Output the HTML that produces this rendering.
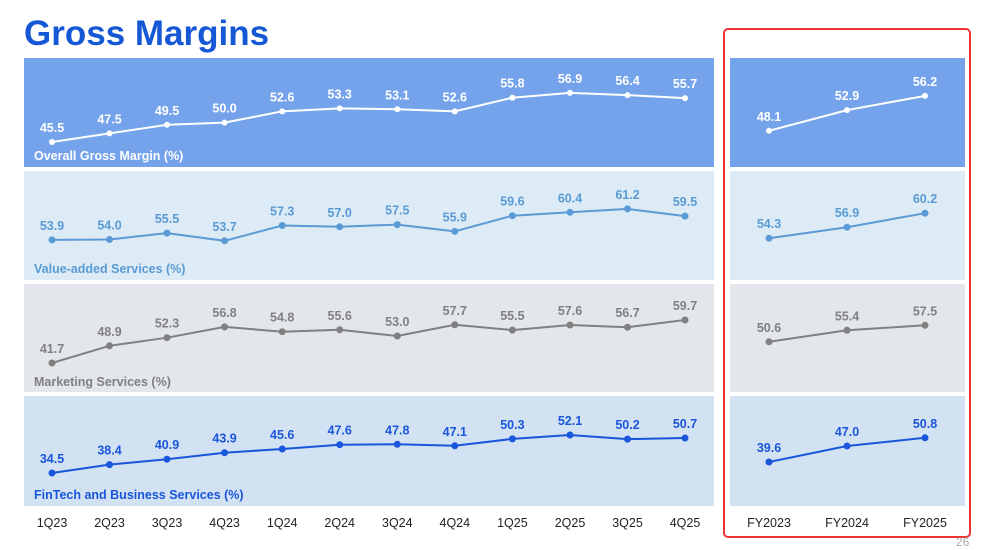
<!DOCTYPE html>
<html><head><meta charset="utf-8"><style>
body{margin:0;background:#fff;}
svg{display:block;font-family:"Liberation Sans",Arial,sans-serif;}
.v{font-size:12.5px;font-weight:bold;text-anchor:middle;}
.c{font-size:12.5px;text-anchor:middle;fill:#222;}
.n{font-size:12.5px;font-weight:bold;}
</style></head><body>
<svg width="1000" height="550" viewBox="0 0 1000 550">
<text x="24" y="45" font-size="35" font-weight="bold" fill="#1558d6">Gross Margins</text>
<rect x="24" y="58" width="690" height="109" fill="#74a3eb"/>
<rect x="24" y="171" width="690" height="109" fill="#dcebf5"/>
<rect x="24" y="284" width="690" height="108" fill="#e3e6ea"/>
<rect x="24" y="396" width="690" height="110" fill="#d2e2f3"/>
<rect x="730" y="58" width="235" height="109" fill="#74a3eb"/>
<rect x="730" y="171" width="235" height="109" fill="#dcebf5"/>
<rect x="730" y="284" width="235" height="108" fill="#e3e6ea"/>
<rect x="730" y="396" width="235" height="110" fill="#d2e2f3"/>
<rect x="724" y="29" width="246" height="508" rx="4" fill="none" stroke="#ee3333" stroke-width="2"/>

<text x="34" y="160" class="n" fill="#fff">Overall Gross Margin (%)</text>
<text x="34" y="273" class="n" fill="#5b9bd5">Value-added Services (%)</text>
<text x="34" y="386" class="n" fill="#808080">Marketing Services (%)</text>
<text x="34" y="499" class="n" fill="#1a56db">FinTech and Business Services (%)</text>

<g fill="#fff" stroke="#fff">
<polyline fill="none" stroke-width="2" points="52,142 109.5,133.4 167,124.8 224.6,122.6 282.2,111.4 339.7,108.4 397.3,109.3 454.8,111.4 512.4,97.7 570,92.9 627.5,95.1 685,98.1"/>
<polyline fill="none" stroke-width="2" points="769,130.8 847,110.1 925,95.9"/>
<g stroke="none">
<circle cx="52" cy="142" r="3"/><circle cx="109.5" cy="133.4" r="3"/><circle cx="167" cy="124.8" r="3"/><circle cx="224.6" cy="122.6" r="3"/><circle cx="282.2" cy="111.4" r="3"/><circle cx="339.7" cy="108.4" r="3"/><circle cx="397.3" cy="109.3" r="3"/><circle cx="454.8" cy="111.4" r="3"/><circle cx="512.4" cy="97.7" r="3"/><circle cx="570" cy="92.9" r="3"/><circle cx="627.5" cy="95.1" r="3"/><circle cx="685" cy="98.1" r="3"/>
<circle cx="769" cy="130.8" r="3"/><circle cx="847" cy="110.1" r="3"/><circle cx="925" cy="95.9" r="3"/>
<text class="v" x="52" y="132">45.5</text><text class="v" x="109.5" y="123.4">47.5</text><text class="v" x="167" y="114.8">49.5</text><text class="v" x="224.6" y="112.6">50.0</text><text class="v" x="282.2" y="101.4">52.6</text><text class="v" x="339.7" y="98.4">53.3</text><text class="v" x="397.3" y="99.3">53.1</text><text class="v" x="454.8" y="101.4">52.6</text><text class="v" x="512.4" y="87.7">55.8</text><text class="v" x="570" y="82.9">56.9</text><text class="v" x="627.5" y="85.1">56.4</text><text class="v" x="685" y="88.1">55.7</text>
<text class="v" x="769" y="120.8">48.1</text><text class="v" x="847" y="100.1">52.9</text><text class="v" x="925" y="85.9">56.2</text>
</g></g>

<g fill="#5b9bd5" stroke="#5b9bd5">
<polyline fill="none" stroke-width="2" points="52,239.9 109.5,239.5 167,233.1 224.6,240.8 282.2,225.5 339.7,226.8 397.3,224.6 454.8,231.4 512.4,215.7 570,212.3 627.5,208.9 685,216.1"/>
<polyline fill="none" stroke-width="2" points="769,238.2 847,227.2 925,213.2"/>
<g stroke="none">
<circle cx="52" cy="239.9" r="3.5"/><circle cx="109.5" cy="239.5" r="3.5"/><circle cx="167" cy="233.1" r="3.5"/><circle cx="224.6" cy="240.8" r="3.5"/><circle cx="282.2" cy="225.5" r="3.5"/><circle cx="339.7" cy="226.8" r="3.5"/><circle cx="397.3" cy="224.6" r="3.5"/><circle cx="454.8" cy="231.4" r="3.5"/><circle cx="512.4" cy="215.7" r="3.5"/><circle cx="570" cy="212.3" r="3.5"/><circle cx="627.5" cy="208.9" r="3.5"/><circle cx="685" cy="216.1" r="3.5"/>
<circle cx="769" cy="238.2" r="3.5"/><circle cx="847" cy="227.2" r="3.5"/><circle cx="925" cy="213.2" r="3.5"/>
<text class="v" x="52" y="229.9">53.9</text><text class="v" x="109.5" y="229.5">54.0</text><text class="v" x="167" y="223.1">55.5</text><text class="v" x="224.6" y="230.8">53.7</text><text class="v" x="282.2" y="215.5">57.3</text><text class="v" x="339.7" y="216.8">57.0</text><text class="v" x="397.3" y="214.6">57.5</text><text class="v" x="454.8" y="221.4">55.9</text><text class="v" x="512.4" y="205.7">59.6</text><text class="v" x="570" y="202.3">60.4</text><text class="v" x="627.5" y="198.9">61.2</text><text class="v" x="685" y="206.1">59.5</text>
<text class="v" x="769" y="228.2">54.3</text><text class="v" x="847" y="217.2">56.9</text><text class="v" x="925" y="203.2">60.2</text>
</g></g>

<g fill="#808080" stroke="#808080">
<polyline fill="none" stroke-width="2" points="52,363 109.5,345.8 167,337.7 224.6,326.9 282.2,331.7 339.7,329.8 397.3,336 454.8,324.8 512.4,330.1 570,325 627.5,327.2 685,320"/>
<polyline fill="none" stroke-width="2" points="769,341.8 847,330.3 925,325.3"/>
<g stroke="none">
<circle cx="52" cy="363" r="3.5"/><circle cx="109.5" cy="345.8" r="3.5"/><circle cx="167" cy="337.7" r="3.5"/><circle cx="224.6" cy="326.9" r="3.5"/><circle cx="282.2" cy="331.7" r="3.5"/><circle cx="339.7" cy="329.8" r="3.5"/><circle cx="397.3" cy="336" r="3.5"/><circle cx="454.8" cy="324.8" r="3.5"/><circle cx="512.4" cy="330.1" r="3.5"/><circle cx="570" cy="325" r="3.5"/><circle cx="627.5" cy="327.2" r="3.5"/><circle cx="685" cy="320" r="3.5"/>
<circle cx="769" cy="341.8" r="3.5"/><circle cx="847" cy="330.3" r="3.5"/><circle cx="925" cy="325.3" r="3.5"/>
<text class="v" x="52" y="353">41.7</text><text class="v" x="109.5" y="335.8">48.9</text><text class="v" x="167" y="327.7">52.3</text><text class="v" x="224.6" y="316.9">56.8</text><text class="v" x="282.2" y="321.7">54.8</text><text class="v" x="339.7" y="319.8">55.6</text><text class="v" x="397.3" y="326">53.0</text><text class="v" x="454.8" y="314.8">57.7</text><text class="v" x="512.4" y="320.1">55.5</text><text class="v" x="570" y="315">57.6</text><text class="v" x="627.5" y="317.2">56.7</text><text class="v" x="685" y="310">59.7</text>
<text class="v" x="769" y="331.8">50.6</text><text class="v" x="847" y="320.3">55.4</text><text class="v" x="925" y="315.3">57.5</text>
</g></g>

<g fill="#1a56db" stroke="#1a56db">
<polyline fill="none" stroke-width="2" points="52,473 109.5,464.6 167,459.2 224.6,452.7 282.2,449 339.7,444.7 397.3,444.3 454.8,445.8 512.4,438.9 570,435 627.5,439.1 685,438"/>
<polyline fill="none" stroke-width="2" points="769,462 847,446 925,437.8"/>
<g stroke="none">
<circle cx="52" cy="473" r="3.5"/><circle cx="109.5" cy="464.6" r="3.5"/><circle cx="167" cy="459.2" r="3.5"/><circle cx="224.6" cy="452.7" r="3.5"/><circle cx="282.2" cy="449" r="3.5"/><circle cx="339.7" cy="444.7" r="3.5"/><circle cx="397.3" cy="444.3" r="3.5"/><circle cx="454.8" cy="445.8" r="3.5"/><circle cx="512.4" cy="438.9" r="3.5"/><circle cx="570" cy="435" r="3.5"/><circle cx="627.5" cy="439.1" r="3.5"/><circle cx="685" cy="438" r="3.5"/>
<circle cx="769" cy="462" r="3.5"/><circle cx="847" cy="446" r="3.5"/><circle cx="925" cy="437.8" r="3.5"/>
<text class="v" x="52" y="463">34.5</text><text class="v" x="109.5" y="454.6">38.4</text><text class="v" x="167" y="449.2">40.9</text><text class="v" x="224.6" y="442.7">43.9</text><text class="v" x="282.2" y="439">45.6</text><text class="v" x="339.7" y="434.7">47.6</text><text class="v" x="397.3" y="434.3">47.8</text><text class="v" x="454.8" y="435.8">47.1</text><text class="v" x="512.4" y="428.9">50.3</text><text class="v" x="570" y="425">52.1</text><text class="v" x="627.5" y="429.1">50.2</text><text class="v" x="685" y="428">50.7</text>
<text class="v" x="769" y="452">39.6</text><text class="v" x="847" y="436">47.0</text><text class="v" x="925" y="427.8">50.8</text>
</g></g>

<g>
<text class="c" x="52" y="527">1Q23</text><text class="c" x="109.5" y="527">2Q23</text><text class="c" x="167" y="527">3Q23</text><text class="c" x="224.6" y="527">4Q23</text><text class="c" x="282.2" y="527">1Q24</text><text class="c" x="339.7" y="527">2Q24</text><text class="c" x="397.3" y="527">3Q24</text><text class="c" x="454.8" y="527">4Q24</text><text class="c" x="512.4" y="527">1Q25</text><text class="c" x="570" y="527">2Q25</text><text class="c" x="627.5" y="527">3Q25</text><text class="c" x="685" y="527">4Q25</text>
<text class="c" x="769" y="527">FY2023</text><text class="c" x="847" y="527">FY2024</text><text class="c" x="925" y="527">FY2025</text>
</g>
<text x="956" y="546" font-size="12" fill="#aaa">26</text>
</svg>
</body></html>
